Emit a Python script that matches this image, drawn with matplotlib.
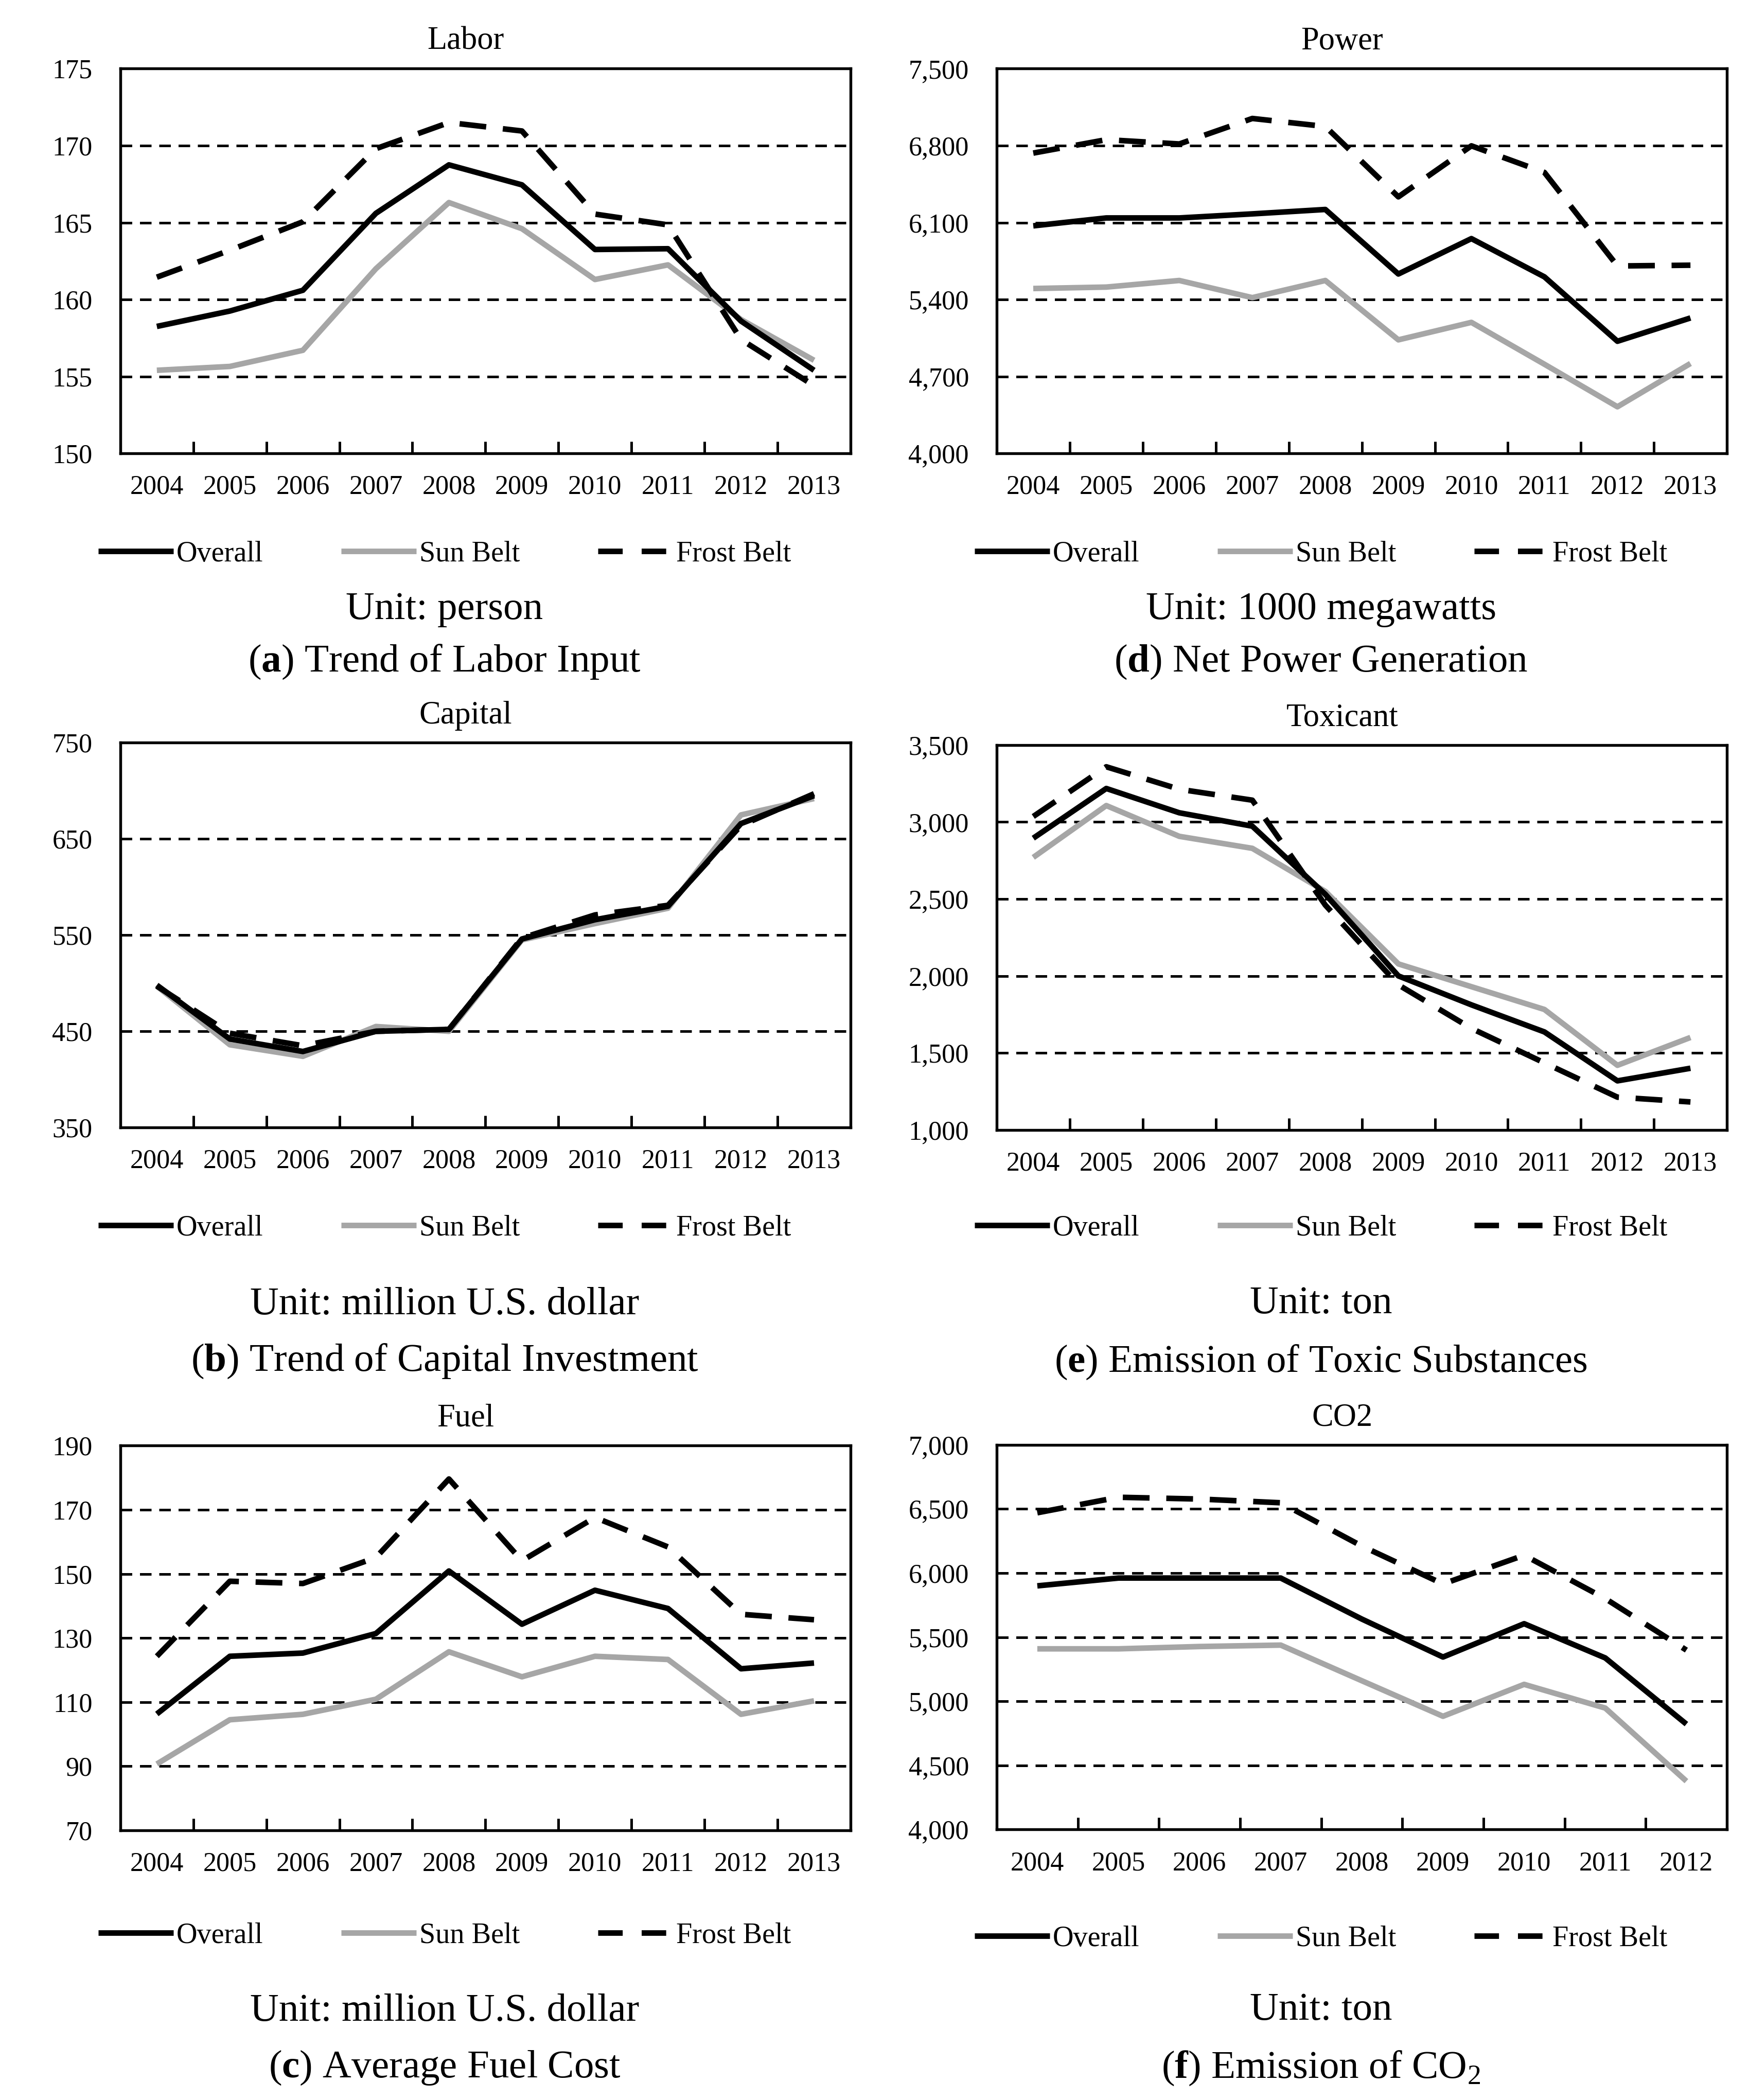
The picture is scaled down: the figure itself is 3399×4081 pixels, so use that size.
import matplotlib
matplotlib.use("Agg")
import matplotlib.pyplot as plt
from matplotlib import ticker
from matplotlib.lines import Line2D

plt.rcParams['font.family'] = ['Liberation Serif', 'DejaVu Serif']
plt.rcParams['mathtext.fontset'] = 'custom'
plt.rcParams['mathtext.rm'] = 'Liberation Serif'
plt.rcParams['mathtext.bf'] = 'Liberation Serif:bold'

years = ['2004', '2005', '2006', '2007', '2008', '2009', '2010', '2011', '2012', '2013']
years_co2 = years[:9]

labor_overall = [158.25, 159.25, 160.6, 165.6, 168.75, 167.45, 163.25, 163.3, 158.6, 155.4]
labor_sun = [155.4, 155.65, 156.7, 162.0, 166.3, 164.6, 161.3, 162.25, 158.7, 156.05]
labor_frost = [161.45, 163.2, 165.05, 169.8, 171.5, 170.95, 165.55, 164.85, 157.4, 154.4]

power_overall = [6070, 6142, 6142, 6179, 6219, 5632, 5954, 5606, 5020, 5232]
power_sun = [5500, 5513, 5573, 5417, 5573, 5033, 5192, 4811, 4424, 4818]
power_frost = [6732, 6854, 6815, 7047, 6974, 6334, 6798, 6556, 5705, 5712]

capital_overall = [498, 442, 429, 450, 452, 546, 566, 580, 666, 695]
capital_sun = [497, 436, 424, 455, 450, 545, 562, 578, 675, 692]
capital_frost = [497, 448, 435, 450, 452, 547, 571, 581, 664, 697]

toxic_overall = [2895, 3218, 3060, 2973, 2530, 2000, 1812, 1636, 1318, 1400]
toxic_sun = [2770, 3107, 2907, 2829, 2549, 2078, 1930, 1782, 1419, 1600]
toxic_frost = [3036, 3359, 3213, 3142, 2460, 1942, 1659, 1435, 1212, 1181]

fuel_overall = [106.3, 124.3, 125.3, 131.4, 150.9, 134.3, 144.9, 139.2, 120.4, 122.2]
fuel_sun = [90.7, 104.5, 106.2, 110.9, 125.7, 117.9, 124.3, 123.3, 106.2, 110.4]
fuel_frost = [124.3, 147.7, 147.0, 155.1, 179.6, 154.1, 167.6, 158.4, 137.4, 135.7]

co2_overall = [5900, 5961, 5961, 5961, 5641, 5345, 5605, 5338, 4822]
co2_sun = [5409, 5409, 5427, 5438, 5160, 4883, 5132, 4947, 4377]
co2_frost = [6470, 6591, 6577, 6548, 6210, 5915, 6139, 5801, 5399]

series_names = ['Overall', 'Sun Belt', 'Frost Belt']

GRAY = '#a6a6a6'
LW = 2.6
DASH = (0, (4.8, 3.0))

fig = plt.figure(figsize=(3399 / 300, 4081 / 300), dpi=300)

# axes size in figure fractions, per-panel left/bottom and text offsets below
W, H = 0.4175, 0.1832
panels = [
    ('Labor', years, (labor_overall, labor_sun, labor_frost), [150, 155, 160, 165, 170, 175], False,
     'Unit: person', 'a', 'Trend of Labor Input', (0.0688, 0.7841), (-0.262, -0.406, -0.542)),
    ('Power', years, (power_overall, power_sun, power_frost), [4000, 4700, 5400, 6100, 6800, 7500], True,
     'Unit: 1000 megawatts', 'd', 'Net Power Generation', (0.5699, 0.7841), (-0.262, -0.406, -0.542)),
    ('Capital', years, (capital_overall, capital_sun, capital_frost), [350, 450, 550, 650, 750], False,
     'Unit: million U.S. dollar', 'b', 'Trend of Capital Investment', (0.0688, 0.4631), (-0.262, -0.461, -0.607)),
    ('Toxicant', years, (toxic_overall, toxic_sun, toxic_frost), [1000, 1500, 2000, 2500, 3000, 3500], True,
     'Unit: ton', 'e', 'Emission of Toxic Substances', (0.5699, 0.4620), (-0.256, -0.452, -0.604)),
    ('Fuel', years, (fuel_overall, fuel_sun, fuel_frost), [70, 90, 110, 130, 150, 170, 190], False,
     'Unit: million U.S. dollar', 'c', 'Average Fuel Cost', (0.0688, 0.1284), (-0.274, -0.470, -0.617)),
    ('CO2', years_co2, (co2_overall, co2_sun, co2_frost), [4000, 4500, 5000, 5500, 6000, 6500, 7000], True,
     'Unit: ton', 'f', r'Emission of CO$_{2}$', (0.5699, 0.1288), (-0.284, -0.470, -0.620)),
]

for title, cats, (ov, sun, fr), yt, thous, unit, tag, cap, (l, b), (ly, uy, cy) in panels:
    ax = fig.add_axes([l, b, W, H])
    x = range(len(cats))
    ax.plot(x, ov, '-', color='black', lw=LW, solid_capstyle='butt', zorder=4)
    ax.plot(x, sun, '-', color=GRAY, lw=LW, solid_capstyle='butt', zorder=3)
    ax.plot(x, fr, color='black', lw=LW, linestyle=DASH, dash_capstyle='butt', zorder=5)

    ax.set_xlim(-0.5, len(cats) - 0.5)
    ax.set_ylim(yt[0], yt[-1])
    ax.set_yticks(yt)
    if thous:
        ax.yaxis.set_major_formatter(ticker.FuncFormatter(lambda v, p: '{:,.0f}'.format(v)))
    ax.set_xticks(list(x))
    ax.set_xticklabels(cats)
    ax.set_xticks([i + 0.5 for i in range(len(cats) - 1)], minor=True)
    ax.tick_params(axis='x', which='major', length=0, pad=10, labelsize=12.5)
    ax.tick_params(axis='x', which='minor', direction='in', length=5.5, width=1.2)
    ax.tick_params(axis='y', length=0, pad=13, labelsize=12.5)

    for yv in yt[1:-1]:
        ax.axhline(yv, color='black', lw=1.2, linestyle=(0, (4.5, 3.0)), zorder=1)
    for s in ax.spines.values():
        s.set_linewidth(1.3)
        s.set_zorder(6)

    ax.set_title(title, fontsize=15, pad=9, x=0.473)

    handles = [Line2D([], [], color='black', lw=LW, solid_capstyle='butt'),
               Line2D([], [], color=GRAY, lw=LW, solid_capstyle='butt'),
               Line2D([], [], color='black', lw=LW, linestyle=(0, (4.4, 3.4)), dash_capstyle='butt')]
    ax.legend(handles, series_names, loc='center', bbox_to_anchor=(0.444, ly), ncol=3,
              frameon=False, fontsize=13.5, handlelength=2.6, handletextpad=0.1,
              columnspacing=2.7, borderaxespad=0)

    ax.text(0.444, uy, unit, transform=ax.transAxes, ha='center', va='center', fontsize=18.5)
    ax.text(0.444, cy, '(' + r'$\mathbf{' + tag + '}$' + ') ' + cap, transform=ax.transAxes,
            ha='center', va='center', fontsize=18.5)

fig.savefig('out.png', dpi=300)
